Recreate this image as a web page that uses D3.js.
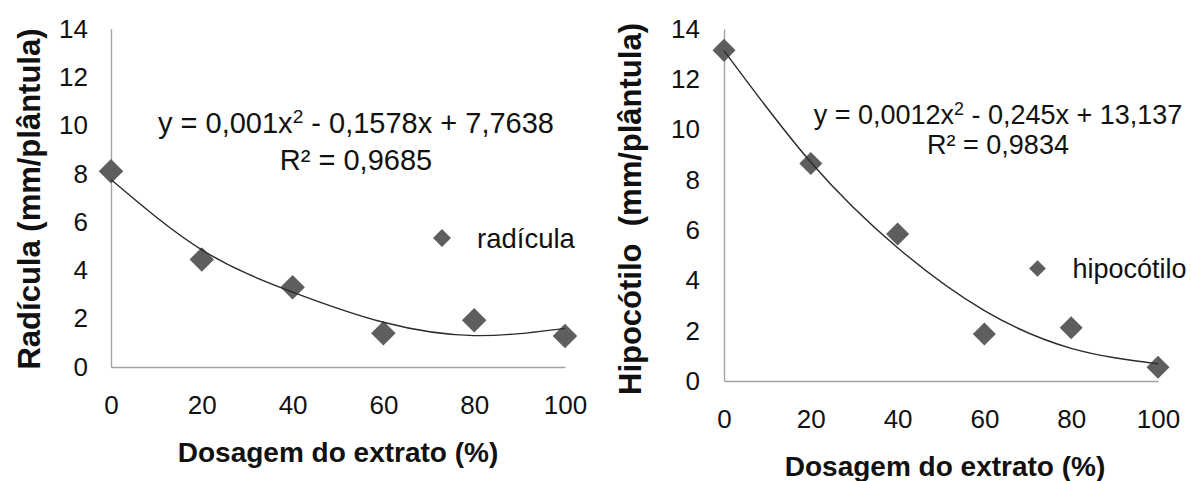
<!DOCTYPE html>
<html>
<head>
<meta charset="utf-8">
<script src="https://cdn.jsdelivr.net/npm/d3@7"></script>
<style>
  body { margin: 0; background: #fff; }
  text { font-family: "Liberation Sans", Arial, sans-serif; fill: #111; }
</style>
</head>
<body>
<div id="chart"></div>
<script>
// values
var doses = [0, 20, 40, 60, 80, 100];
var radicula = [8.1, 4.45, 3.3, 1.4, 1.93, 1.28];
var hipocotilo = [13.15, 8.65, 5.85, 1.87, 2.12, 0.55];
// trend lines, read at each dose
var radiculaTrend = [7.76, 4.85, 3.1, 1.85, 1.3, 1.6];
var hipocotiloTrend = [13.14, 8.7, 5.3, 2.8, 1.3, 0.68];
var xTicks = [0, 20, 40, 60, 80, 100];
var yTicks = [0, 2, 4, 6, 8, 10, 12, 14];
var equations = [
  ["y = 0,001x", "2", " - 0,1578x + 7,7638", "R² = 0,9685"],
  ["y = 0,0012x", "2", " - 0,245x + 13,137", "R² = 0,9834"]
];
var seriesNames = ["radícula", "hipocótilo"];
var yTitles = ["Radícula (mm/plântula)", "Hipocótilo  (mm/plântula)"];
var xTitle = "Dosagem do extrato (%)";

var svg = d3.select("#chart")
  .append("svg")
  .attr("width", 1191)
  .attr("height", 481);

var panels = [
  { values: radicula, trend: radiculaTrend, eq: equations[0], name: seriesNames[0], ytitle: yTitles[0],
    left: 111, right: 565, bottom: 367, top: 28.7, yPad: 23, ms: 300,
    eqX: 356, eqY: 133, eqY2: 169.5, eqSize: 29,
    legX: 442, legY: 238, legSize: 27.5, legMs: 162,
    xtX: 338, xtY: 462, ytX: 40, ytY: 199, ytSize: 31 },
  { values: hipocotilo, trend: hipocotiloTrend, eq: equations[1], name: seriesNames[1], ytitle: yTitles[1],
    left: 724, right: 1158, bottom: 381, top: 29, yPad: 24, ms: 265,
    eqX: 998, eqY: 123.5, eqY2: 154, eqSize: 27,
    legX: 1037.5, legY: 268.5, legSize: 27, legMs: 140,
    xtX: 945, xtY: 476, ytX: 641, ytY: 209, ytSize: 31 }
];

panels.forEach(function(p) {
  var x = d3.scaleLinear().domain([0, 100]).range([p.left, p.right]);
  var y = d3.scaleLinear().domain([0, 14]).range([p.bottom, p.top]);

  // axes: plain grey lines, no tick marks
  var gx = svg.append("g")
    .attr("transform", "translate(0," + p.bottom + ")")
    .call(d3.axisBottom(x).tickValues(xTicks).tickSize(0).tickSizeOuter(0).tickPadding(29));
  var gy = svg.append("g")
    .attr("transform", "translate(" + p.left + ",0)")
    .call(d3.axisLeft(y).tickValues(yTicks).tickSize(0).tickSizeOuter(0).tickPadding(p.yPad));
  [gx, gy].forEach(function(g) {
    g.attr("font-family", null).attr("font-size", null);
    g.select(".domain").attr("stroke", "#a3a3a3").attr("stroke-width", 1.4);
    g.selectAll("text").style("font-size", "26px").attr("fill", "#111");
  });

  // markers
  svg.append("g")
    .selectAll("path")
    .data(p.values)
    .enter()
    .append("path")
      .attr("d", d3.symbol(d3.symbolSquare, p.ms))
      .attr("transform", function(d, i) { return "translate(" + x(doses[i]) + "," + y(d) + ") rotate(45)"; })
      .style("fill", "#5e5e5e");

  // trend line
  var line = d3.line()
    .x(function(d, i) { return x(doses[i]); })
    .y(function(d) { return y(d); })
    .curve(d3.curveNatural);
  svg.append("path")
    .datum(p.trend)
    .attr("d", line)
    .attr("fill", "none")
    .attr("stroke", "#2b2b2b")
    .attr("stroke-width", 1.4);

  // equation
  var t = svg.append("text")
    .attr("x", p.eqX).attr("y", p.eqY)
    .attr("text-anchor", "middle")
    .style("font-size", p.eqSize + "px");
  t.append("tspan").text(p.eq[0]);
  t.append("tspan").text(p.eq[1]).attr("dy", -p.eqSize * 0.33).style("font-size", (p.eqSize * 0.66) + "px");
  t.append("tspan").text(p.eq[2]).attr("dy", p.eqSize * 0.33);
  svg.append("text")
    .attr("x", p.eqX).attr("y", p.eqY2)
    .attr("text-anchor", "middle")
    .style("font-size", p.eqSize + "px")
    .text(p.eq[3]);

  // legend
  svg.append("path")
    .attr("d", d3.symbol(d3.symbolSquare, p.legMs))
    .attr("transform", "translate(" + p.legX + "," + p.legY + ") rotate(45)")
    .style("fill", "#5e5e5e");
  svg.append("text")
    .attr("x", p.legX + 35).attr("y", p.legY + 9.5)
    .style("font-size", p.legSize + "px")
    .text(p.name);

  // axis titles
  svg.append("text")
    .attr("x", p.xtX).attr("y", p.xtY)
    .attr("text-anchor", "middle")
    .style("font-size", "28px").style("font-weight", "bold")
    .text(xTitle);
  svg.append("text")
    .attr("transform", "translate(" + p.ytX + "," + p.ytY + ") rotate(-90)")
    .attr("text-anchor", "middle")
    .style("white-space", "pre")
    .style("font-size", p.ytSize + "px").style("font-weight", "bold")
    .text(p.ytitle);
});
</script>
</body>
</html>
